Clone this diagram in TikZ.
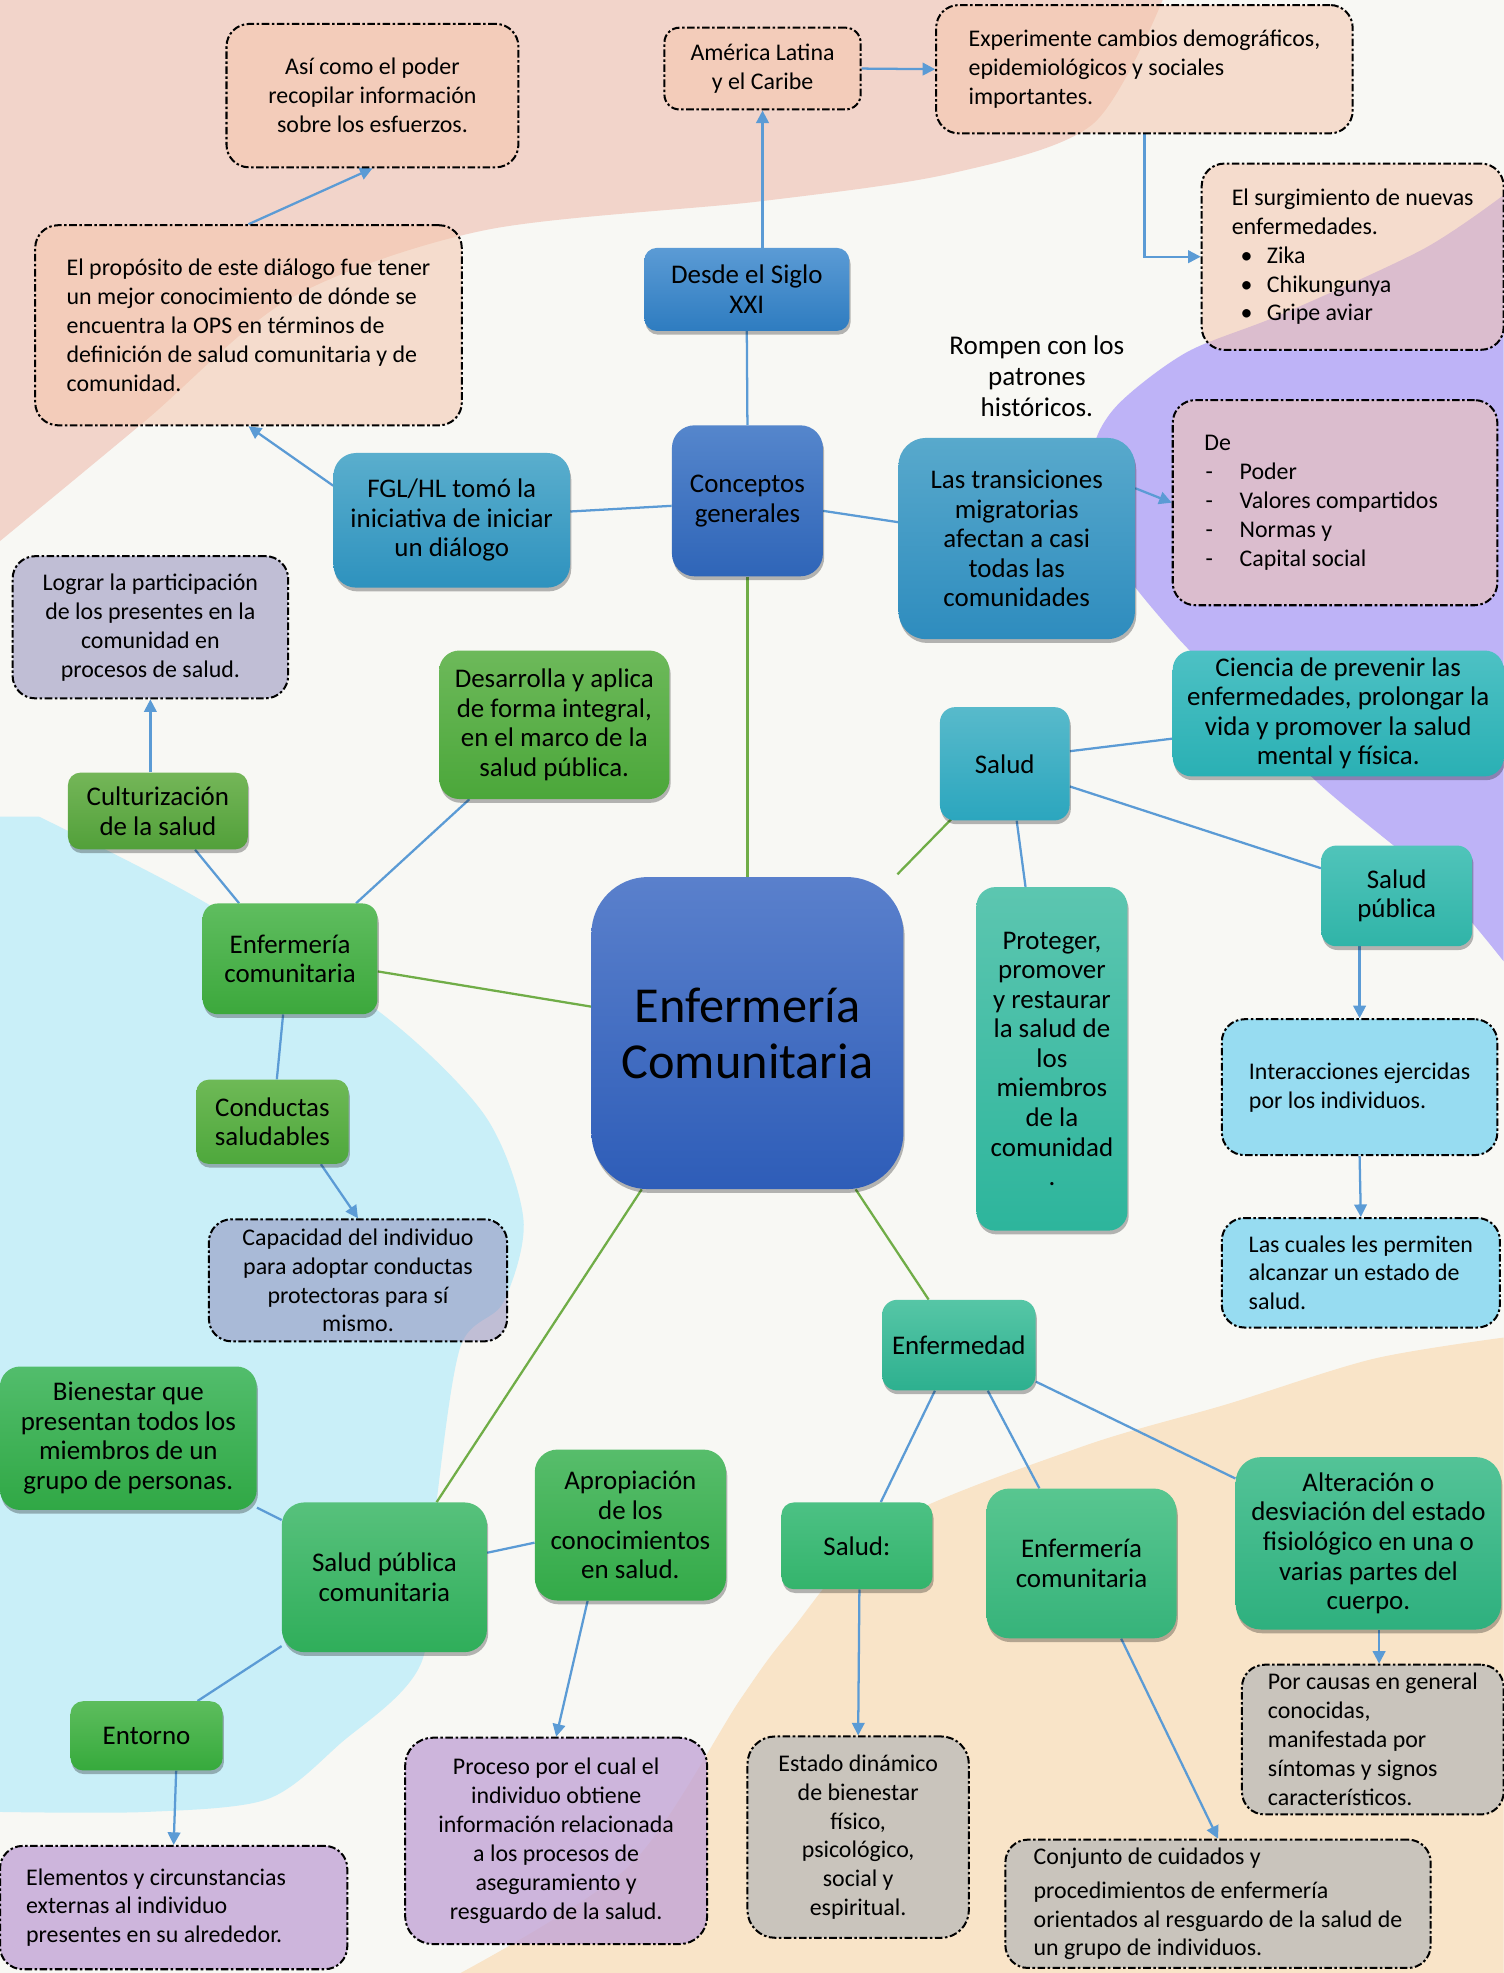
\documentclass[tikz,border=0pt]{standalone}
\usepackage{fontspec}
\setmainfont{Carlito}
\usetikzlibrary{shadows,arrows.meta,calc}
\definecolor{bgc}{HTML}{F8F8F4}
\definecolor{pinkbg}{HTML}{F2D4CA}
\definecolor{purpbg}{HTML}{BEB3F7}
\definecolor{bluebg}{HTML}{C9EFF8}
\definecolor{peachbg}{HTML}{F9E4C8}
\definecolor{lblue}{HTML}{5B9BD5}
\definecolor{lgreen}{HTML}{70AD47}
\definecolor{peachbox}{HTML}{F4C6AD}
\definecolor{lavbox}{HTML}{8A86B8}
\definecolor{cyanbox}{HTML}{97DCF1}
\definecolor{greybox}{HTML}{C9C4BC}
\definecolor{purpbox}{HTML}{C3A5D6}
\newcommand{\mynf}{\fontsize{19}{23}\selectfont}
\newcommand{\mysf}{\fontsize{21.4}{23.5}\selectfont}
\newcommand{\bul}[1]{\makebox[28pt][l]{\hspace{7pt}\textbullet}#1}
\newcommand{\dsh}[1]{\makebox[28pt][l]{\hspace{1pt}-}#1}
\pgfdeclarelayer{bgl}
\pgfdeclarelayer{lnl}
\pgfsetlayers{bgl,lnl,main}
\tikzset{
  wh/.style 2 args={minimum width=#1, minimum height=#2},
  grad/.code 2 args={\definecolor{gt#1}{HTML}{#1}\definecolor{gb#2}{HTML}{#2}\pgfkeysalso{top color=gt#1,bottom color=gb#2}},
  sbox/.style={draw=none, rounded corners=12pt, inner sep=0pt, align=center, font=\mysf,
    drop shadow={shadow xshift=1pt, shadow yshift=-3pt, opacity=0.28, fill=black}},
  dbox/.style={draw=black, line width=1.6pt, dash pattern=on 6pt off 2pt on 2pt off 2pt,
    rounded corners=18pt, inner sep=0pt, font=\mynf, text opacity=1},
  pfill/.style={fill=peachbox, fill opacity=0.55},
  bline/.style={draw=lblue, line width=1.8pt},
  barr/.style={bline, -{Triangle[length=10pt,width=10pt]}},
  gline/.style={draw=lgreen, line width=1.8pt}
}
\begin{document}
\begin{tikzpicture}[x=1pt,y=-1pt]
\useasboundingbox (0,0) rectangle (1195,1568);
\begin{pgfonlayer}{bgl}
\fill[bgc] (0,0) rectangle (1195,1568);
\fill[pinkbg] (0,0) -- (924,0) -- plot[smooth] coordinates {(924,0)(868,99)(755,138)(604,160)(385,183)(231,237)(116,334)(0,430)} -- cycle;
\fill[purpbg] (1195,155) -- plot[smooth] coordinates {(1195,155)(1131,198)(1018,250)(943,280)(887,323)(868,362)(878,420)(898,461)(937,508)} -- plot[smooth] coordinates {(937,508)(1043,618)(1138,698)(1195,764)} -- cycle;
\fill[bluebg] (0,649) -- plot[smooth] coordinates {(31,649)(154,712)(300,803)(385,886)(416,969)(400,1035)(366,1070)(347,1193)(335,1321)(270,1386)(212,1430)(116,1440)(0,1440)} -- cycle;
\fill[peachbg] plot[smooth] coordinates {(1195,1063)(1091,1080)(975,1116)(859,1150)(704,1213)(627,1298)(588,1351)(501,1482)(366,1568)} -- (1195,1568) -- cycle;
\end{pgfonlayer}

% solid nodes
\node[sbox, wh={248}{248}, rounded corners=45pt, grad={5A80CC}{2E5DB8}, font=\fontsize{40}{44.5}\selectfont] (central) at (594,821) {Enfermería\\Comunitaria};
\node[sbox, wh={120}{120}, rounded corners=18pt, grad={5586CC}{2F65B8}] (conc) at (594,398) {Conceptos\\generales};
\node[sbox, wh={163}{66}, rounded corners=10pt, grad={5B9BD5}{2E7CC0}] (desde) at (593.5,230) {Desde el Siglo\\XXI};
\node[sbox, wh={188}{107}, rounded corners=18pt, grad={5AAECD}{2E92BE}] (fgl) at (359,413.5) {FGL/HL tomó la\\iniciativa de iniciar\\un diálogo};
\node[sbox, wh={188}{160}, rounded corners=22pt, grad={58A9CC}{2E8CBE}] (trans) at (808,428) {Las transiciones\\migratorias\\afectan a casi\\todas las\\comunidades};
\node[sbox, wh={103}{90}, grad={58BACB}{2BA6BE}] (salud1) at (798.5,607) {Salud};
\node[sbox, wh={263}{100}, rounded corners=15pt, grad={4DC1C4}{2AB0B4}] (ciencia) at (1063.5,567) {Ciencia de prevenir las\\enfermedades, prolongar la\\vida y promover la salud\\mental y física.};
\node[sbox, wh={120}{80}, grad={50C4BA}{30B4A8}] (saludpub) at (1110,712) {Salud\\pública};
\node[sbox, wh={120}{273}, rounded corners=15pt, grad={5CC6B0}{2DB59C}] (proteger) at (836,841.5) {Proteger,\\promover\\y restaurar\\la salud de\\los\\miembros\\de la\\comunidad\\.};
\node[sbox, wh={122}{72}, grad={56C6A6}{2DB08F}] (enfermedad) at (762,1069) {Enfermedad};
\node[sbox, wh={120}{69}, rounded corners=10pt, grad={4CC184}{34B46C}] (salud2) at (681,1228.5) {Salud:};
\node[sbox, wh={151}{119}, rounded corners=18pt, grad={58C690}{36B37A}] (enfcom2) at (859.5,1242.5) {Enfermería\\comunitaria};
\node[sbox, wh={211}{137}, rounded corners=20pt, grad={53C397}{2EB07E}] (alteracion) at (1087.5,1226.5) {Alteración o\\desviación del estado\\fisiológico en una o\\varias partes del\\cuerpo.};
\node[sbox, wh={139}{88}, grad={5FBD5F}{3CA83C}] (enfcom1) at (230.5,762) {Enfermería\\comunitaria};
\node[sbox, wh={143}{61}, rounded corners=10pt, grad={74B658}{52A03A}] (cultur) at (125.5,644.5) {Culturización\\de la salud};
\node[sbox, wh={183}{118}, rounded corners=16pt, grad={6DB95A}{4BA73A}] (desarrolla) at (440.5,576) {Desarrolla y aplica\\de forma integral,\\en el marco de la\\salud pública.};
\node[sbox, wh={121}{67}, rounded corners=10pt, grad={6EB956}{4EA83C}] (conductas) at (216.5,891.5) {Conductas\\saludables};
\node[sbox, wh={204}{114}, rounded corners=16pt, grad={52BD6C}{30A845}] (bienestar) at (102,1143) {Bienestar que\\presentan todos los\\miembros de un\\grupo de personas.};
\node[sbox, wh={163}{119}, rounded corners=18pt, grad={57C17C}{2FAE5A}] (spc) at (305.5,1253.5) {Salud pública\\comunitaria};
\node[sbox, wh={152}{120}, rounded corners=18pt, grad={57BD6B}{33AA48}] (aprop) at (501,1212) {Apropiación\\de los\\conocimientos\\en salud.};
\node[sbox, wh={121}{55}, rounded corners=10pt, grad={5DBD5D}{36AA3C}] (entorno) at (116.5,1379.5) {Entorno};

% dashed boxes
\node[dbox, pfill, wh={232}{114}, align=center] (asi) at (296,76) {Así como el poder\\recopilar información\\sobre los esfuerzos.};
\node[dbox, pfill, wh={339}{159}, align=left] (proposito) at (197.5,258.5) {El propósito de este diálogo fue tener\\un mejor conocimiento de dónde se\\encuentra la OPS en términos de\\definición de salud comunitaria y de\\comunidad.};
\node[dbox, pfill, wh={156}{65}, align=center, rounded corners=12pt] (america) at (606,54.5) {América Latina\\y el Caribe};
\node[dbox, pfill, wh={331}{102}, align=left] (exp) at (909.5,55) {Experimente cambios demográficos,\\epidemiológicos y sociales\\importantes.};
\node[dbox, pfill, wh={240}{148}, align=left] (surg) at (1075,204) {El surgimiento de nuevas\\enfermedades.\\\bul{Zika}\\\bul{Chikungunya}\\\bul{Gripe aviar}};
\node[dbox, pfill, wh={258}{163}, align=left] (de) at (1061,399.5) {De\\\dsh{Poder}\\\dsh{Valores compartidos}\makebox[22pt]{}\\\dsh{Normas y}\\\dsh{Capital social}};
\node[dbox, fill=lavbox, fill opacity=0.5, wh={219}{113}, align=center] (lograr) at (119.5,498.5) {Lograr la participación\\de los presentes en la\\comunidad en\\procesos de salud.};
\node[dbox, fill=lavbox, fill opacity=0.5, wh={237}{97}, align=center] (capacidad) at (284.5,1017.5) {Capacidad del individuo\\para adoptar conductas\\protectoras para sí\\mismo.};
\node[dbox, fill=cyanbox, wh={219}{108}, align=left] (inter) at (1080.5,864) {Interacciones ejercidas\\por los individuos.};
\node[dbox, fill=cyanbox, wh={221}{87}, align=left] (cuales) at (1081.5,1011.5) {Las cuales les permiten\\alcanzar un estado de\\salud.};
\node[dbox, fill=greybox, wh={208}{119}, align=left] (porcausas) at (1091,1382.5) {Por causas en general\\conocidas,\\manifestada por\\síntomas y signos\\característicos.};
\node[dbox, fill=greybox, wh={176}{160}, align=center, rounded corners=22pt] (estado) at (682,1460) {Estado dinámico\\de bienestar\\físico,\\psicológico,\\social y\\espiritual.};
\node[dbox, fill=greybox, wh={338}{102}, align=left] (conjunto) at (968,1513) {Conjunto de cuidados y\\[4pt]procedimientos de enfermería\\orientados al resguardo de la salud de\\un grupo de individuos.};
\node[dbox, fill=purpbox, fill opacity=0.8, wh={240}{164}, align=center, rounded corners=22pt] (proceso) at (442,1463) {Proceso por el cual el\\individuo obtiene\\información relacionada\\a los procesos de\\aseguramiento y\\resguardo de la salud.};
\node[dbox, fill=purpbox, fill opacity=0.8, wh={276}{98}, align=left] (elementos) at (138,1516) {Elementos y circunstancias\makebox[28pt]{}\\externas al individuo\\presentes en su alrededor.};

\node[align=center, inner sep=0pt, font=\fontsize{21.5}{25}\selectfont] (rompen) at (824,299) {Rompen con los\\patrones\\históricos.};

\begin{pgfonlayer}{lnl}
% blue connectors top
\draw[bline] (conc.north) -- (desde.south);
\draw[barr] (america.south |- desde.north) -- (america.south);
\draw[barr] (america.east) -- (exp.west);
\draw[barr] (exp.south) |- (surg.west);
\draw[bline] ($(conc.west)+(0,4)$) -- ($(fgl.east)+(0,-7)$);
\draw[barr] ($(fgl.west)+(0,-27.5)$) -- (proposito.south);
\draw[barr] (proposito.north) -- (asi.south);
\draw[bline] ($(conc.east)+(0,8)$) -- ($(trans.west)+(0,-13)$);
\draw[barr] ($(trans.east)+(0,-40)$) -- (de.west);
% green main
\draw[gline] (conc.south) -- (central.north);
\draw[gline] ($(central.north east)+(-5,-2)$) -- ($(salud1.south west)+(9,-1)$);
\draw[gline] ($(central.west)+(0,-21)$) -- ($(enfcom1.east)+(0,10)$);
\draw[gline] ($(central.south)+(-84,0)$) -- ($(spc.north)+(41.5,0)$);
\draw[gline] ($(central.south)+(86,0)$) -- ($(enfermedad.north)+(-24,0)$);
% salud
\draw[bline] ($(salud1.east)+(0,-10)$) -- ($(ciencia.west)+(0,20)$);
\draw[bline] ($(salud1.east)+(0,18)$) -- ($(saludpub.west)+(0,-22)$);
\draw[bline] ($(salud1.south)+(9.5,0)$) -- ($(proteger.north)+(-21,0)$);
\draw[barr] (inter.north |- saludpub.south) -- (inter.north);
\draw[barr] (inter.south) -- (cuales.north);
% left cluster
\draw[bline] ($(enfcom1.north)+(-40.5,0)$) -- ($(cultur.south)+(29.5,0)$);
\draw[barr] (lograr.south |- cultur.north) -- (lograr.south);
\draw[bline] ($(enfcom1.north)+(52.5,0)$) -- ($(desarrolla.south)+(-67.5,0)$);
\draw[bline] ($(enfcom1.south)+(-5.5,0)$) -- ($(conductas.north)+(3.5,0)$);
\draw[barr] ($(conductas.south)+(38.5,0)$) -- (capacidad.north);
% enfermedad cluster
\draw[bline] ($(enfermedad.south)+(-19,0)$) -- ($(salud2.north)+(19,0)$);
\draw[bline] ($(enfermedad.south)+(23,0)$) -- ($(enfcom2.north)+(-33.5,0)$);
\draw[bline] ($(enfermedad.east)+(0,29)$) -- ($(alteracion.west)+(0,-51.5)$);
\draw[barr] ($(salud2.south)+(2,0)$) -- (estado.north);
\draw[barr] ($(enfcom2.south)+(31.5,0)$) -- (conjunto.north);
\draw[barr] ($(alteracion.south)+(8.5,0)$) -- ($(porcausas.north)+(5,0)$);
% spc cluster
\draw[bline] ($(spc.west)+(0,-45.5)$) -- ($(bienestar.south east)+(0,-2)$);
\draw[bline] ($(spc.east)+(0,-19.5)$) -- ($(aprop.west)+(0,14)$);
\draw[bline] ($(spc.south west)+(0,-5)$) -- ($(entorno.north)+(40.5,0)$);
\draw[barr] ($(entorno.south)+(23.5,0)$) -- (elementos.north);
\draw[barr] ($(aprop.south)+(-34,0)$) -- (proceso.north);
\end{pgfonlayer}
\end{tikzpicture}
\end{document}
